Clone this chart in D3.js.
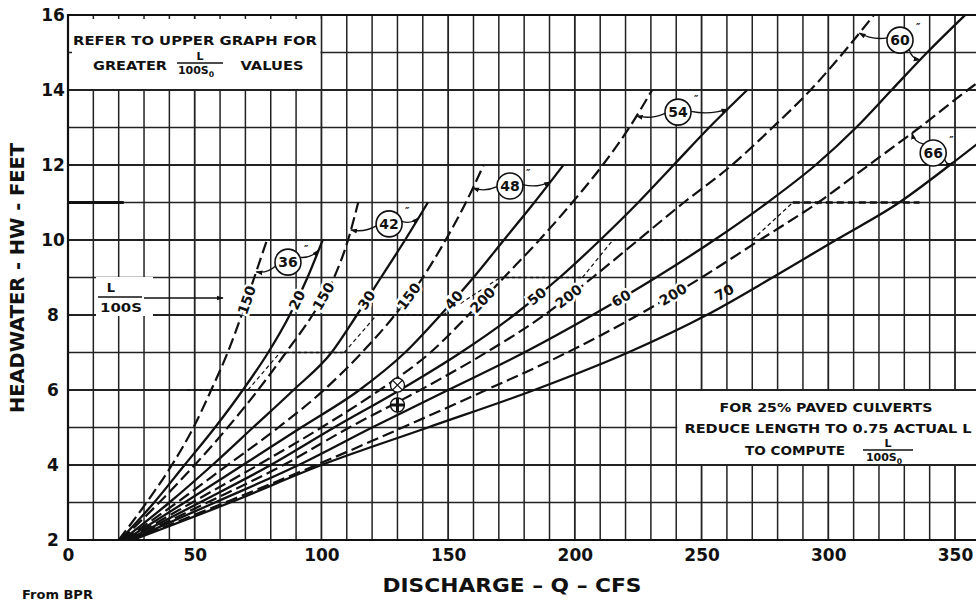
<!DOCTYPE html>
<html>
<head>
<meta charset="utf-8">
<script src="https://cdn.jsdelivr.net/npm/d3@7"></script>
<style>
  html, body { margin: 0; padding: 0; background: #fff; }
  svg { display: block; }
  text { font-family: "DejaVu Sans", "Liberation Sans", sans-serif; fill: #111; }
</style>
</head>
<body>
<svg id="chart" width="976" height="601"></svg>
<script>
// ---- tick values ----
const qTicks = [0, 50, 100, 150, 200, 250, 300, 350];
const hwTicks = [2, 4, 6, 8, 10, 12, 14, 16];

// ---- culvert sizes (inches) and L/100S values of each curve ----
const pipeSizes = ["36", "42", "48", "54", "60", "66"];
const highRatioLabels = ["150", "150", "150", "200", "200", "200"];  // dashed curves
const lowRatioLabels = ["20", "30", "40", "50", "60", "70"];          // solid curves

// ---- curves: [discharge Q (cfs), headwater HW (ft)] ----
const pipe36High = [[20,2],[31,3],[41,4],[49.5,5],[56.5,6],[63,7],[68.5,8],[73.5,9],[78.5,10]];
const pipe36Low  = [[20.5,2],[34,3],[46,4],[58,5],[69,6],[79,7],[87.5,8],[94.5,9],[100.5,10]];
const pipe42High = [[21,2],[36,3],[50,4],[63,5],[75,6],[86,7],[96.5,8],[105,9],[110.5,10],[114.5,11]];
const pipe42Low  = [[21.5,2],[40,3],[57,4],[73,5],[89,6],[104,7],[114,8],[123.5,9],[133,10],[142,11]];
const pipe48High = [[22,2],[43,3],[63,4],[83,5],[101,6],[116,7],[129,8],[140,9],[149,10],[157,11],[164,12]];
const pipe48Low  = [[22.5,2],[46,3],[69,4],[92,5],[115,6],[133,7],[147,8],[160,9],[172,10],[184,11],[195.5,12]];
const pipe54High = [[23,2],[49,3],[75,4],[100,5],[123,6],[143,7],[158,8],[172,9],[186,10],[199,11],[211,12],[221.5,13],[230.5,14]];
const pipe54Low  = [[23.5,2],[52,3],[80,4],[105,5],[131,6],[155,7],[176,8],[194,9],[210,10],[225,11],[239,12],[253,13],[268,14]];
const pipe60High = [[24,2],[55,3],[85,4],[111,5],[139,6],[165,7],[188,8],[207,9],[225,10],[243,11],[262,12],[278,13],[293,14],[306,15],[318,16]];
const pipe60Low  = [[24.5,2],[58,3],[91,4],[120,5],[150,6],[180,7],[207,8],[232,9],[255,10],[276,11],[295,12],[311,13],[325,14],[339,15],[354,16]];
const pipe66High = [[25,2],[62,3],[98,4],[132,5],[165,6],[197,7],[225,8],[250,9],[273,10],[296,11],[316,12],[336,13],[355,14],[365,14.5]];
const pipe66Low  = [[25.5,2],[64,3],[100,4],[142,5],[184,6],[221,7],[252,8],[278,9],[303,10],[328,11],[348,12],[367,13]];

// ---- HW = 2D limits: level, start Q, end Q ----
const twoDiaHW   = [6, 7, 8, 9, 10, 11];
const twoDiaFrom = [47, 83.7, 121.8, 170.5, 215, 286];
const twoDiaTo   = [71, 109, 148, 203, 270, 336];

// ---- curve label positions (HW where each label sits) ----
const highLabelHW = [8.4, 8.5, 8.5, 8.4, 8.5, 8.55];
const lowLabelHW  = [8.4, 8.4, 8.4, 8.5, 8.45, 8.35];

// ---- circled pipe-size tags (Q, HW) and leader targets (HW on each curve) ----
const tagQ  = [86.8, 126.7, 174.4, 240.7, 328.3, 341.4];
const tagHW = [9.41, 10.43, 11.44, 13.41, 15.33, 12.32];
const leaderHighHW = [9.15, 10.27, 11.39, 13.31, 15.52, 12.85];
const leaderLowHW  = [9.73, 10.59, 11.55, 13.49, 14.8, 12.05];

// ---- worked-example points ----
const examplePoints = [[130, 6.13, "x"], [130, 5.6, "bar"]];

const highCurves = [pipe36High, pipe42High, pipe48High, pipe54High, pipe60High, pipe66High];
const lowCurves  = [pipe36Low, pipe42Low, pipe48Low, pipe54Low, pipe60Low, pipe66Low];

// ================= drawing =================
const W = 976, H = 601;
const svg = d3.select("#chart");
const x = d3.scaleLinear().domain([0, 350]).range([68, 955]);
const y = d3.scaleLinear().domain([2, 16]).range([540, 15]);
const INK = "#111";

const defs = svg.append("defs");
defs.append("clipPath").attr("id", "plotClip")
  .append("rect").attr("x", x(0)).attr("y", y(16)).attr("width", W - x(0)).attr("height", y(2) - y(16));
defs.append("marker").attr("id", "arrowHead")
  .attr("viewBox", "0 0 10 10").attr("refX", 9).attr("refY", 5)
  .attr("markerWidth", 7).attr("markerHeight", 7).attr("markerUnits", "userSpaceOnUse")
  .attr("orient", "auto")
  .append("path").attr("d", "M0,1.5L10,5L0,8.5z").attr("fill", INK);

// grid
const grid = svg.append("g");
grid.selectAll("line.v").data(d3.range(10, 360, 10)).join("line")
  .attr("x1", d => x(d)).attr("x2", d => x(d))
  .attr("y1", y(16)).attr("y2", y(2))
  .attr("stroke", "#222").attr("stroke-width", d => d % 50 === 0 ? 1.8 : 1.5);
grid.selectAll("line.h").data(d3.range(3, 16, 1)).join("line")
  .attr("x1", x(0)).attr("x2", W)
  .attr("y1", d => y(d)).attr("y2", d => y(d))
  .attr("stroke", "#222").attr("stroke-width", d => d % 2 === 0 ? 1.8 : 1.5);
// heavy stub on the 11 ft line
grid.append("line").attr("x1", x(0)).attr("x2", x(22)).attr("y1", y(11)).attr("y2", y(11))
  .attr("stroke", INK).attr("stroke-width", 3.2);
// frame
grid.append("path")
  .attr("d", `M${W},${y(16)}H${x(0)}V${y(2)}H${W}`)
  .attr("fill", "none").attr("stroke", INK).attr("stroke-width", 2.2);

// note boxes (white panels over the grid)
const notes = svg.append("g");
notes.append("rect").attr("x", x(0) + 4).attr("y", y(16) + 4)
  .attr("width", x(100) - x(0) - 5).attr("height", y(14) - y(16) - 5).attr("fill", "#fff");
notes.append("rect").attr("x", x(240) + 1).attr("y", y(6) + 1)
  .attr("width", W - x(240)).attr("height", y(4) - y(6) - 2).attr("fill", "#fff");

function addText(g, str, cx, cy, size, len, anchor) {
  const t = g.append("text").attr("x", cx).attr("y", cy)
    .attr("font-size", size).attr("font-weight", "bold")
    .attr("text-anchor", anchor || "middle").text(str);
  if (len) t.attr("textLength", len).attr("lengthAdjust", "spacingAndGlyphs");
  return t;
}
function addFraction(g, cx, cyBar, width, size) {
  addText(g, "L", cx, cyBar - 3, size);
  g.append("line").attr("x1", cx - width / 2).attr("x2", cx + width / 2)
    .attr("y1", cyBar).attr("y2", cyBar).attr("stroke", INK).attr("stroke-width", 1.4);
  const t = g.append("text").attr("x", cx - 4).attr("y", cyBar + size)
    .attr("font-size", size).attr("font-weight", "bold").attr("text-anchor", "middle");
  t.append("tspan").text("100S");
  t.append("tspan").attr("font-size", size * 0.7).attr("dy", 3).text("0");
}

addText(notes, "REFER TO UPPER GRAPH FOR", 195, 45, 13, 244);
addText(notes, "GREATER", 130, 70, 13, 74);
addFraction(notes, 200, 63, 46, 11);
addText(notes, "VALUES", 272, 70, 13, 63);

addText(notes, "FOR 25% PAVED CULVERTS", 826, 412, 12.5, 213);
addText(notes, "REDUCE LENGTH TO 0.75 ACTUAL L", 828, 433, 12.5, 287);
addText(notes, "TO COMPUTE", 795, 455, 12.5, 100);
addFraction(notes, 888, 450, 50, 11);

// L/100S pointer label
const lbl = svg.append("g");
lbl.append("rect").attr("x", 96).attr("y", 277).attr("width", 57).attr("height", 39).attr("fill", "#fff");
lbl.append("text").attr("x", 111).attr("y", 292).attr("font-size", 13).attr("font-weight", "bold")
  .attr("text-anchor", "middle").text("L");
lbl.append("line").attr("x1", 98).attr("x2", 142).attr("y1", 297).attr("y2", 297)
  .attr("stroke", INK).attr("stroke-width", 1.4);
lbl.append("text").attr("x", 121).attr("y", 312).attr("font-size", 13).attr("font-weight", "bold")
  .attr("text-anchor", "middle").attr("textLength", 42).attr("lengthAdjust", "spacingAndGlyphs").text("100S");
lbl.append("line").attr("x1", 144).attr("x2", 223).attr("y1", 298).attr("y2", 298)
  .attr("stroke", INK).attr("stroke-width", 1.5).attr("marker-end", "url(#arrowHead)");

// curves
const plot = svg.append("g").attr("clip-path", "url(#plotClip)");
const line = d3.line().x(d => x(d[0])).y(d => y(d[1])).curve(d3.curveMonotoneX);

plot.selectAll("path.high").data(highCurves).join("path")
  .attr("d", line).attr("fill", "none").attr("stroke", INK)
  .attr("stroke-width", 2.2).attr("stroke-dasharray", "12,5");
plot.selectAll("path.low").data(lowCurves).join("path")
  .attr("d", line).attr("fill", "none").attr("stroke", INK).attr("stroke-width", 2.3);

// HW = 2D limit lines and the connectors between them
twoDiaHW.forEach((hw, i) => {
  const heavy = i === twoDiaHW.length - 1;
  plot.append("line")
    .attr("x1", x(twoDiaFrom[i])).attr("x2", x(twoDiaTo[i]))
    .attr("y1", y(hw)).attr("y2", y(hw))
    .attr("stroke", INK).attr("stroke-width", heavy ? 2.6 : 1.6)
    .attr("stroke-dasharray", heavy ? "7,4" : "3,3");
  if (i < twoDiaHW.length - 1) {
    plot.append("line")
      .attr("x1", x(twoDiaTo[i])).attr("y1", y(hw))
      .attr("x2", x(twoDiaFrom[i + 1])).attr("y2", y(twoDiaHW[i + 1]))
      .attr("stroke", INK).attr("stroke-width", 1.2).attr("stroke-dasharray", "4,3");
  }
});

// point on a curve at a given headwater
function qAt(curve, hw) {
  for (let k = 0; k < curve.length - 1; k++) {
    const a = curve[k], b = curve[k + 1];
    if (hw >= a[1] && hw <= b[1]) return a[0] + (b[0] - a[0]) * (hw - a[1]) / (b[1] - a[1]);
  }
  return curve[curve.length - 1][0];
}

// rotated value labels along each curve
function curveLabel(curve, hw, str, offset) {
  const p0 = [x(qAt(curve, hw - 0.25)), y(hw - 0.25)];
  const p1 = [x(qAt(curve, hw + 0.25)), y(hw + 0.25)];
  const ang = Math.atan2(p1[1] - p0[1], p1[0] - p0[0]) * 180 / Math.PI;
  const cx = x(qAt(curve, hw)), cy = y(hw);
  const nx = Math.sin(ang * Math.PI / 180) * offset, ny = -Math.cos(ang * Math.PI / 180) * offset;
  plot.append("text")
    .attr("transform", `translate(${cx + nx},${cy + ny}) rotate(${ang})`)
    .attr("text-anchor", "middle").attr("dy", "0.36em")
    .attr("font-size", 14).attr("font-weight", "bold")
    .attr("stroke", "#fff").attr("stroke-width", offset ? 0 : 5).attr("paint-order", "stroke")
    .text(str);
}
highCurves.forEach((c, i) => curveLabel(c, highLabelHW[i], highRatioLabels[i], 0));
lowCurves.forEach((c, i) => curveLabel(c, lowLabelHW[i], lowRatioLabels[i], i === 5 ? 11 : 0));

// circled pipe-size tags with leaders
const tags = svg.append("g");
const R = 13;
pipeSizes.forEach((s, i) => {
  const cx = x(tagQ[i]), cy = y(tagHW[i]);
  const targets = [
    [x(qAt(highCurves[i], leaderHighHW[i])), y(leaderHighHW[i])],
    [x(qAt(lowCurves[i], leaderLowHW[i])), y(leaderLowHW[i])]
  ];
  targets.forEach(t => {
    const dx = t[0] - cx, dy = t[1] - cy, d = Math.hypot(dx, dy);
    const sx = cx + dx / d * R, sy = cy + dy / d * R;
    const mx = (sx + t[0]) / 2, my = (sy + t[1]) / 2;
    const bend = 5 * (dx > 0 ? 1 : -1);
    tags.append("path")
      .attr("d", `M${sx},${sy}Q${mx - dy / d * bend},${my + dx / d * bend} ${t[0]},${t[1]}`)
      .attr("fill", "none").attr("stroke", INK).attr("stroke-width", 1.3)
      .attr("marker-end", "url(#arrowHead)");
  });
  tags.append("circle").attr("cx", cx).attr("cy", cy).attr("r", R)
    .attr("fill", "#fff").attr("stroke", INK).attr("stroke-width", 1.6);
  tags.append("text").attr("x", cx).attr("y", cy).attr("dy", "0.36em")
    .attr("text-anchor", "middle").attr("font-size", 14).attr("font-weight", "bold").text(s);
  tags.append("text").attr("x", cx + 16).attr("y", cy - 9)
    .attr("font-size", 10).attr("font-weight", "bold").text("\u2033");
});

// worked-example markers
examplePoints.forEach(p => {
  const g = svg.append("g").attr("transform", `translate(${x(p[0])},${y(p[1])})`);
  g.append("circle").attr("r", 7).attr("fill", "#fff").attr("stroke", INK).attr("stroke-width", 1.4);
  if (p[2] === "x") {
    g.append("path").attr("d", "M-5,-5L5,5M5,-5L-5,5").attr("stroke", INK).attr("stroke-width", 1.3);
  } else {
    g.append("path").attr("d", "M-7,0H7M0,-7V7").attr("stroke", INK).attr("stroke-width", 3);
  }
});

// axes (labels only; the frame and grid carry the lines)
const xAxis = svg.append("g").attr("transform", `translate(0,${y(2)})`)
  .call(d3.axisBottom(x).tickValues(qTicks).tickSize(0).tickPadding(9).tickFormat(d3.format("d")));
xAxis.select(".domain").remove();
xAxis.selectAll("text").attr("font-size", 17).attr("font-weight", "bold").attr("fill", INK)
  .attr("font-family", "DejaVu Sans, sans-serif");

const yAxis = svg.append("g").attr("transform", `translate(${x(0)},0)`)
  .call(d3.axisLeft(y).tickValues(hwTicks).tickSize(0).tickPadding(15).tickFormat(d3.format("d")));
yAxis.select(".domain").remove();
yAxis.selectAll("text").attr("font-size", 17).attr("font-weight", "bold").attr("fill", INK)
  .attr("text-anchor", "middle").attr("x", 53 - x(0))
  .attr("font-family", "DejaVu Sans, sans-serif");

// axis titles and source note
svg.append("text").attr("x", 512).attr("y", 592).attr("text-anchor", "middle")
  .attr("font-size", 19).attr("font-weight", "bold")
  .attr("textLength", 259).attr("lengthAdjust", "spacingAndGlyphs")
  .text("DISCHARGE \u2013 Q \u2013 CFS");
svg.append("text").attr("transform", "translate(24,278) rotate(-90)").attr("text-anchor", "middle")
  .attr("font-size", 19).attr("font-weight", "bold")
  .attr("textLength", 270).attr("lengthAdjust", "spacingAndGlyphs")
  .text("HEADWATER - HW - FEET");
svg.append("text").attr("x", 22).attr("y", 599).attr("font-size", 13).attr("font-weight", "bold")
  .text("From BPR");
</script>
</body>
</html>
